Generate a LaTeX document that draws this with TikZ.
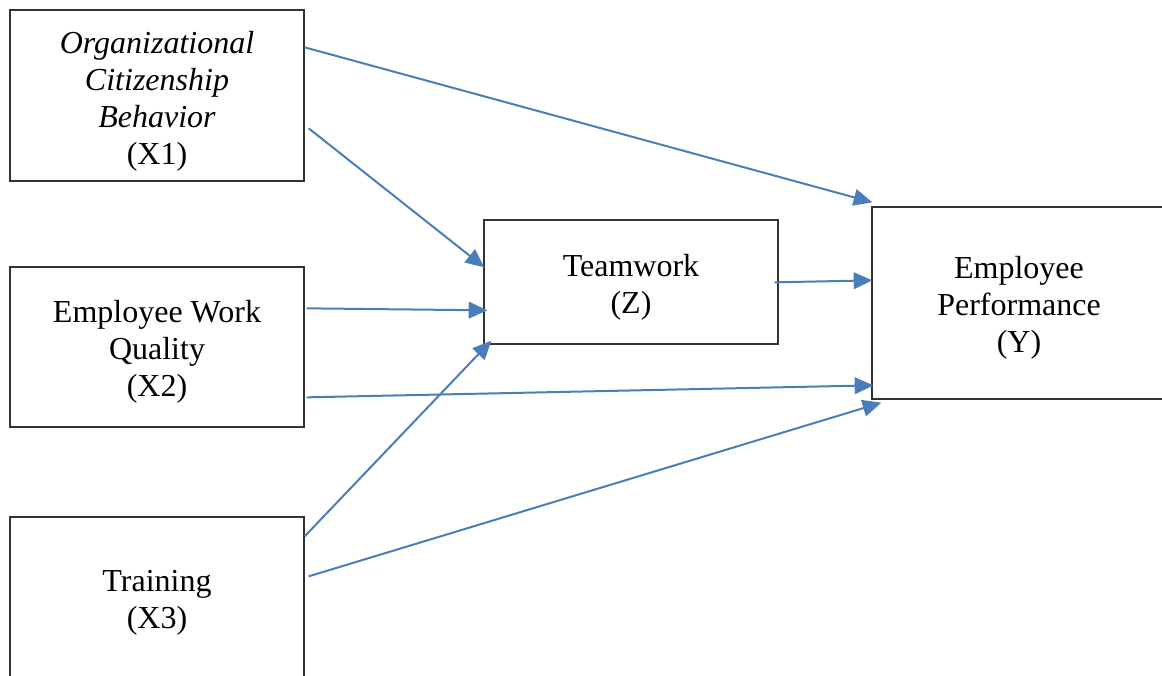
\documentclass[tikz,border=0pt]{standalone}
\usepackage{fontspec}
\setmainfont{Liberation Serif}
\usetikzlibrary{arrows.meta,calc}
\definecolor{arrowblue}{HTML}{4A7EBB}
\tikzset{
  boxnode/.style={draw=black!80, line width=1pt, minimum width=294*0.75pt, inner sep=0pt},
  boxtext/.style={align=center, inner sep=0pt, font=\fontsize{24pt}{27.75pt}\selectfont},
  conn/.style={draw=arrowblue, line width=1.5pt, -{Triangle[length=14pt,width=12.5pt]}}
}
\begin{document}
\begin{tikzpicture}[x=0.75pt,y=-0.75pt]
\useasboundingbox (0,0) rectangle (1162,675);
\clip (0,0) rectangle (1162,675);
\node[boxnode, minimum height=171*0.75pt] (x1) at (157,95.5) {};
\node[boxnode, minimum height=160*0.75pt] (x2) at (157,347) {};
\node[boxnode, minimum height=170*0.75pt] (x3) at (157,602) {};
\node[boxnode, minimum height=124*0.75pt] (z) at (631,282) {};
\node[boxnode, minimum height=192*0.75pt] (y) at (1019,303) {};
\node[boxtext] (x1t) at ($(x1.center)+(0,6)$) {\textit{Organizational}\\\textit{Citizenship}\\\textit{Behavior}\\(X1)};
\node[boxtext] (x2t) at ($(x2.center)+(0,5)$) {Employee Work\\Quality\\(X2)};
\node[boxtext] (x3t) at ($(x3.center)+(0,1)$) {Training\\(X3)};
\node[boxtext] (zt) at ($(z.center)+(0,5)$) {Teamwork\\(Z)};
\node[boxtext] (yt) at ($(y.center)+(0,5)$) {Employee\\Performance\\(Y)};
\draw[conn] ($(x1.north east)+(0,38)$) -- ($(y.north west)+(1,-4)$);
\draw[conn] ($(x1.north east)+(4,119)$) -- ($(z.north west)+(1,48)$);
\draw[conn] ($(x2.north east)+(2,42)$) -- ($(z.north west)+(4,91)$);
\draw[conn] ($(x2.north east)+(2,131)$) -- ($(y.north west)+(2,179)$);
\draw[conn] ($(x3.north east)+(0,20)$) -- ($(z.south west)+(8,-4)$);
\draw[conn] ($(x3.north east)+(4,60)$) -- ($(y.south west)+(10,3)$);
\draw[conn] ($(z.north east)+(-4,63)$) -- ($(y.north west)+(1,74)$);
\end{tikzpicture}
\end{document}
